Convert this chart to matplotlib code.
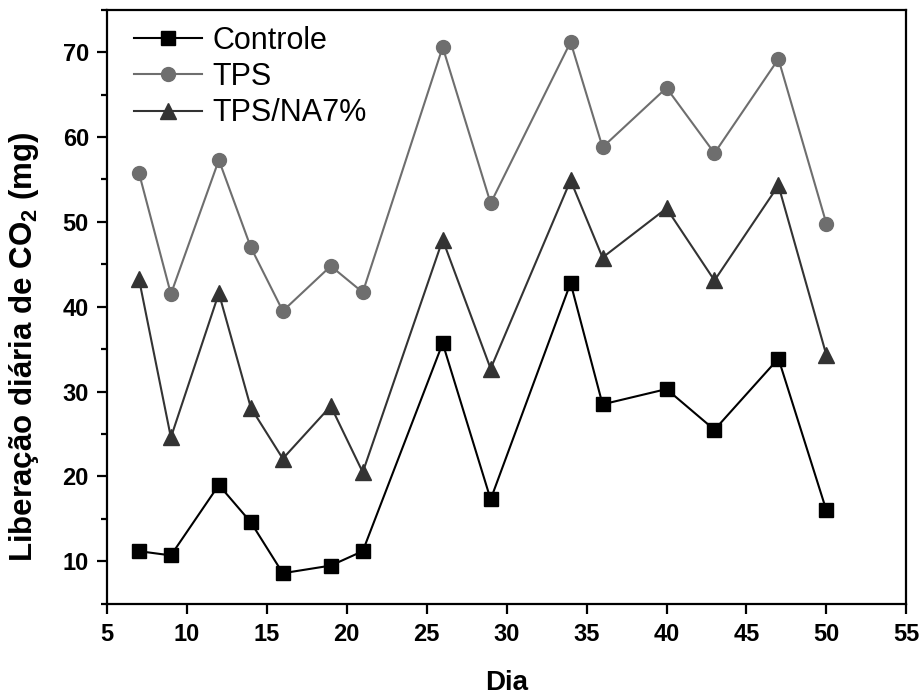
import matplotlib
matplotlib.use('Agg')
import matplotlib.pyplot as plt
from matplotlib.ticker import MultipleLocator

plt.rcParams['font.family'] = ['Liberation Sans', 'DejaVu Sans']
plt.rcParams['mathtext.fontset'] = 'custom'
plt.rcParams['mathtext.rm'] = 'Liberation Sans:bold'
plt.rcParams['mathtext.it'] = 'Liberation Sans:bold'
plt.rcParams['mathtext.bf'] = 'Liberation Sans:bold'

# dias de medicao
dias = [7, 9, 12, 14, 16, 19, 21, 26, 29, 34, 36, 40, 43, 47, 50]

# liberacao diaria de CO2 (mg)
controle = [11.2, 10.7, 19.0, 14.6, 8.6, 9.5, 11.2, 35.7, 17.3, 42.8, 28.5, 30.3, 25.5, 33.9, 16.0]
tps = [55.8, 41.5, 57.3, 47.0, 39.5, 44.8, 41.7, 70.6, 52.2, 71.2, 58.8, 65.8, 58.1, 69.2, 49.8]
tps_na7 = [43.3, 24.6, 41.6, 28.1, 22.1, 28.3, 20.5, 47.9, 32.7, 54.9, 45.8, 51.6, 43.1, 54.3, 34.3]

fig = plt.figure(figsize=(9.22, 6.98), dpi=100)
ax = fig.add_axes([0.116, 0.135, 0.867, 0.851])

ax.plot(dias, controle, color='black', lw=1.5, marker='s', ms=9.5, label='Controle')
ax.plot(dias, tps, color='#6e6e6e', lw=1.5, marker='o', ms=10, label='TPS')
ax.plot(dias, tps_na7, color='#333333', lw=1.5, marker='^', ms=11.5, label='TPS/NA7%')

ax.set_xlim(5, 55)
ax.set_ylim(5, 75)
ax.xaxis.set_major_locator(MultipleLocator(5))
ax.yaxis.set_minor_locator(MultipleLocator(5))
ax.set_yticks([10, 20, 30, 40, 50, 60, 70])

for s in ax.spines.values():
    s.set_linewidth(1.6)
ax.tick_params(axis='both', which='major', direction='out', length=7, width=1.6, labelsize=17)
ax.tick_params(axis='x', which='major', pad=7)
ax.tick_params(axis='y', which='major', pad=6)
ax.tick_params(axis='y', which='minor', direction='out', length=4, width=1.6)
for lab in ax.get_xticklabels() + ax.get_yticklabels():
    lab.set_fontweight('bold')

ax.set_xlabel('Dia', fontsize=20, fontweight='bold', labelpad=17)
ax.set_ylabel('Liberação diária de CO$_2$ (mg)', fontsize=22.5, fontweight='bold')
ax.yaxis.set_label_coords(-0.083, 0.433)

ax.legend(loc='upper left', frameon=False, fontsize=22, handlelength=2.2, handletextpad=0.36,
          labelspacing=0.2, borderaxespad=0.5, bbox_to_anchor=(0.0, 1.019))

fig.savefig('out.png', dpi=100)
